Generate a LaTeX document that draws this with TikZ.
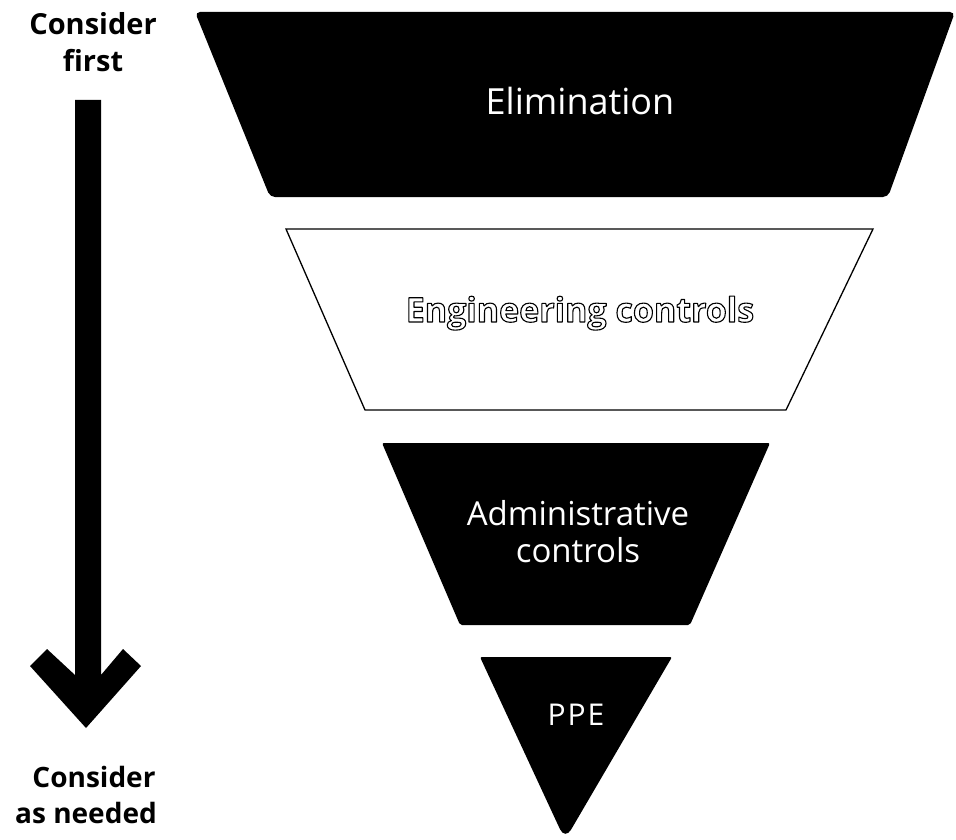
\documentclass[tikz,border=0pt]{standalone}
\usepackage{fontspec}
\setmainfont{Open Sans}
\newcommand{\outlinetext}[1]{{\color{white}\special{pdf:literal direct 0 0 0 RG 1.1 w 1 j 2 Tr}#1\special{pdf:literal direct 0 Tr}}}
\begin{document}
\begin{tikzpicture}[x=1pt,y=-1pt,
  darkband/.style={fill=black,rounded corners=5pt},
  lightband/.style={fill=white,draw=black,line width=1.3pt},
  bandtext/.style={text=white,font=\fontsize{36}{42}\selectfont,align=center,inner sep=0pt},
  sidetext/.style={text=black,font=\bfseries\fontsize{29}{37}\selectfont,align=center,inner sep=0pt}]
\useasboundingbox (0,0) rectangle (956,840);
% tiers
\path[darkband] (195,12) -- (955,12) -- (888,197) -- (270,197) -- cycle;
\path[lightband] (286,229) -- (873,229) -- (786,410) -- (365,410) -- cycle;
\path[darkband,rounded corners=2pt] (382,443) -- (770,443) -- (690,625) -- (460,625) -- cycle;
\path[darkband,rounded corners=2pt] (480,657) -- (672,657) [rounded corners=12pt] -- (565,840) [rounded corners=2pt] -- cycle;
% labels
\node[bandtext,anchor=base] (elim) at (580,115) {Elimination};
\node[anchor=base,inner sep=0pt,font=\bfseries\fontsize{34}{40}\selectfont] (eng) at (580,322) {\outlinetext{Engineering controls}};
\node[bandtext,font=\fontsize{33}{37}\selectfont,anchor=base] (adm1) at (578,525) {Administrative};
\node[bandtext,font=\fontsize{33}{37}\selectfont,anchor=base] (adm2) at (578,562) {controls};
\node[bandtext,font=\fontsize{30}{36}\selectfont,anchor=base] (ppe) at (576,725) {P\kern2pt P\kern2pt E};
% side arrow
\node[sidetext,anchor=base] (top1) at (93,35) {Consider};
\node[sidetext,anchor=base] (top2) at (93,72) {first};
\node[sidetext,font=\bfseries\fontsize{28}{36}\selectfont,anchor=base] (bot1) at (94,787) {Consider};
\node[sidetext,font=\bfseries\fontsize{28}{36}\selectfont,anchor=base] (bot2) at (86,823) {as needed};
\fill[black] (75,100) -- (101,100) -- (101,675) -- (123,649) -- (141,666) -- (86,728)
  -- (30,666) -- (47,649) -- (75,675) -- cycle;
\end{tikzpicture}
\end{document}
